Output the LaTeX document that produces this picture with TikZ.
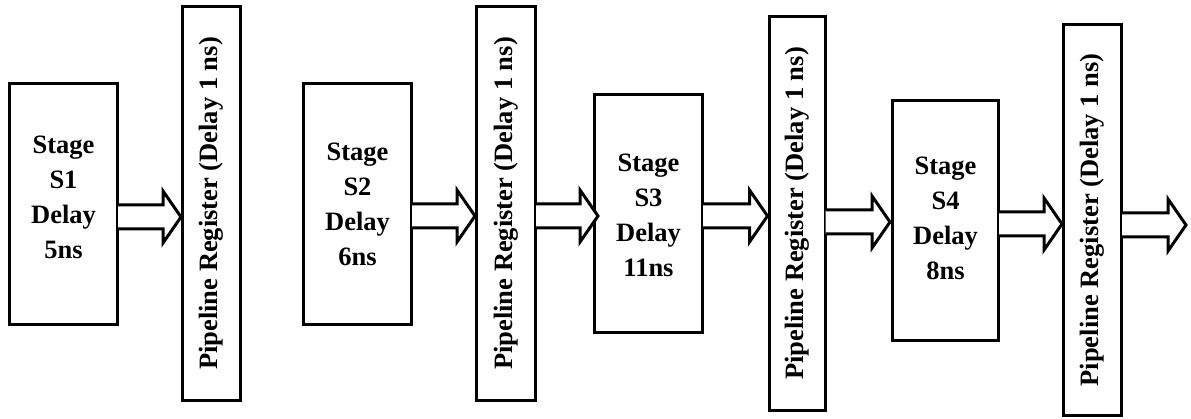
\documentclass[tikz,border=0pt]{standalone}
\usepackage{fontspec}
\setmainfont{Liberation Serif}
\usetikzlibrary{calc}
\tikzset{
  stagebox/.style={draw, line width=3pt, inner sep=0pt, minimum width=108pt, minimum height=241pt},
  stagetext/.style={inner sep=0pt, align=center, font=\bfseries\fontsize{26.5}{35}\selectfont},
  regbox/.style={draw, line width=3pt, inner sep=0pt, minimum width=58pt, minimum height=394pt,
    font=\bfseries\fontsize{26.5}{32}\selectfont},
  hollow/.style={draw, line width=3pt, fill=white, line join=miter, miter limit=10},
}
\newcommand{\hollowarrow}[4]{% #1 source node, #2 target, #3 y, #4 tip offset
  \draw[hollow] let \p1=(#1.east), \p2=(#2) in
    (\x1-1pt,#3+12) -- (\x2+#4-18pt,#3+12) -- (\x2+#4-18pt,#3+26) -- (\x2+#4,#3)
    -- (\x2+#4-18pt,#3-26) -- (\x2+#4-18pt,#3-12) -- (\x1-1pt,#3-12);
}
\begin{document}
\begin{tikzpicture}[x=1pt,y=1pt]
\useasboundingbox (0,0) rectangle (1191,419);
\fill[white] (0,0) rectangle (1191,419);

\node[stagebox] (S1) at (63.5,215) {};
\node[stagetext] (S1t) at ([yshift=7pt]S1.center) {Stage\\S1\\Delay\\5ns};
\node[regbox] (R1) at (211.5,215.5) {\rotatebox{90}{Pipeline Register (Delay 1 ns)}};
\node[stagebox] (S2) at (357.5,215) {};
\node[stagetext] (S2t) at (S2.center) {Stage\\S2\\Delay\\6ns};
\node[regbox, minimum width=59pt] (R2) at (506,215.5) {\rotatebox{90}{Pipeline Register (Delay 1 ns)}};
\node[stagebox, minimum height=238pt] (S3) at (648.5,205.5) {};
\node[stagetext] (S3t) at ([yshift=-2pt]S3.center) {Stage\\S3\\Delay\\11ns};
\node[regbox, minimum width=56pt] (R3) at (797,205.5) {\rotatebox{90}{Pipeline Register (Delay 1 ns)}};
\node[stagebox, minimum width=106pt, minimum height=240pt] (S4) at (945.5,198.5) {};
\node[stagetext] (S4t) at ([yshift=2pt]S4.center) {Stage\\S4\\Delay\\8ns};
\node[regbox, minimum height=391pt] (R4) at (1092.5,199) {\rotatebox{90}{Pipeline Register (Delay 1 ns)}};
\coordinate (out) at (1186,194);

\hollowarrow{S1}{R1.west}{202}{0pt}
\hollowarrow{S2}{R2.west}{203}{0pt}
\hollowarrow{R2}{S3.west}{203}{5pt}
\hollowarrow{S3}{R3.west}{203}{0pt}
\hollowarrow{R3}{S4.west}{197}{-1pt}
\hollowarrow{S4}{R4.west}{195}{0pt}
\hollowarrow{R4}{out}{194}{0pt}
\end{tikzpicture}
\end{document}
